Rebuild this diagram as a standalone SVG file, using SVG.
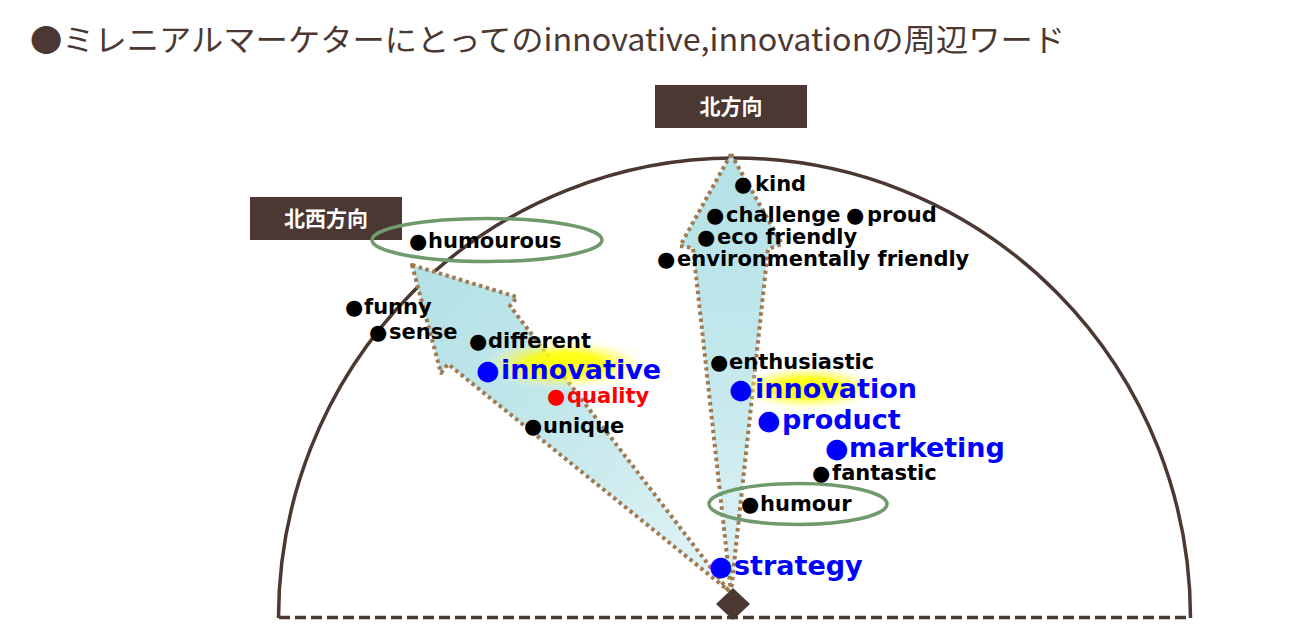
<svg xmlns="http://www.w3.org/2000/svg" width="1300" height="637" viewBox="0 0 1300 637">
<style>
.lbl{font-family:"DejaVu Sans","Noto Sans CJK JP",sans-serif;font-weight:bold;font-size:21px;fill:#000}
.big{font-family:"DejaVu Sans","Noto Sans CJK JP",sans-serif;font-weight:bold;font-size:27px;fill:#0000ff}
.red{fill:#ff0000}
.dot{font-family:"DejaVu Sans",sans-serif;font-weight:bold}
.box{fill:#4b3832}
.boxt{font-family:"Noto Sans CJK JP",sans-serif;font-weight:bold;font-size:21px;fill:#fff}
.arrow{stroke:#a07a50;stroke-width:4;stroke-dasharray:3.5 3.5;stroke-linejoin:round}
.ring{fill:none;stroke:#6f9a6d;stroke-width:3.5}
</style>
<defs>
<linearGradient id="gN" x1="0" y1="0" x2="0" y2="1">
<stop offset="0" stop-color="#b2e1e6"/>
<stop offset="0.55" stop-color="#c6e9ed"/>
<stop offset="1" stop-color="#e2f3f5"/>
</linearGradient>
<linearGradient id="gNW" x1="0" y1="0" x2="1" y2="1">
<stop offset="0" stop-color="#b3e1e6"/>
<stop offset="0.45" stop-color="#c2e7eb"/>
<stop offset="1" stop-color="#e4f4f6"/>
</linearGradient>
<radialGradient id="glow">
<stop offset="0" stop-color="#ffff00" stop-opacity="1"/>
<stop offset="0.45" stop-color="#ffff00" stop-opacity="0.85"/>
<stop offset="0.75" stop-color="#ffff66" stop-opacity="0.4"/>
<stop offset="1" stop-color="#ffffff" stop-opacity="0"/>
</radialGradient>
</defs>

<g id="title">
<text x="30" y="51" font-family="Noto Sans CJK JP, sans-serif" font-size="31" fill="#4b3832" textLength="1035" lengthAdjust="spacingAndGlyphs">●ミレニアルマーケターにとってのinnovative,innovationの周辺ワード</text>
</g>

<g id="compass">
<path d="M 278.5 618 A 456 460 0 0 1 1190.5 618" fill="none" stroke="#4b3832" stroke-width="3.5"/>
<line x1="279" y1="617.5" x2="1190" y2="617.5" stroke="#4b3832" stroke-width="3.5" stroke-dasharray="11 5"/>
</g>

<g id="connectors">
<polygon id="arrow-nw" class="arrow" fill="url(#gNW)" points="412,265 517,297 510,306 728,590 448,364 441,373"/>
<polygon id="arrow-n" class="arrow" fill="url(#gN)" points="731,154 782,244 768,249 731,592 693,248 680,246"/>
</g>

<g id="glows">
<ellipse cx="565" cy="364" rx="85" ry="26" fill="url(#glow)"/>
<ellipse cx="808" cy="388" rx="74" ry="23" fill="url(#glow)"/>
</g>

<g id="center-mark">
<polygon points="733,588 750,604 733,620 716,604" fill="#4b3832"/>
</g>

<g id="label-north">
<rect class="box" x="655" y="85" width="152" height="43"/>
<text class="boxt" x="731" y="114" text-anchor="middle">北方向</text>
</g>
<g id="label-northwest">
<rect class="box" x="250" y="197" width="152" height="43"/>
<text class="boxt" x="326" y="226" text-anchor="middle">北西方向</text>
</g>

<g id="ring-humourous"><ellipse class="ring" cx="487" cy="240" rx="115" ry="21.5"/></g>
<g id="ring-humour"><ellipse class="ring" cx="798" cy="504" rx="89" ry="20.5"/></g>

<g id="w-kind"><text class="lbl" y="191"><tspan class="dot" x="734">●</tspan><tspan x="755">kind</tspan></text></g>
<g id="w-challenge"><text class="lbl" y="222"><tspan class="dot" x="706">●</tspan><tspan x="726">challenge</tspan></text></g>
<g id="w-proud"><text class="lbl" y="222"><tspan class="dot" x="846">●</tspan><tspan x="867">proud</tspan></text></g>
<g id="w-eco"><text class="lbl" y="244"><tspan class="dot" x="697">●</tspan><tspan x="717">eco friendly</tspan></text></g>
<g id="w-env"><text class="lbl" y="266"><tspan class="dot" x="657">●</tspan><tspan x="677">environmentally friendly</tspan></text></g>
<g id="w-humourous"><text class="lbl" y="248"><tspan class="dot" x="409">●</tspan><tspan x="428">humourous</tspan></text></g>
<g id="w-funny"><text class="lbl" y="314"><tspan class="dot" x="345">●</tspan><tspan x="364">funny</tspan></text></g>
<g id="w-sense"><text class="lbl" y="339"><tspan class="dot" x="369">●</tspan><tspan x="389">sense</tspan></text></g>
<g id="w-different"><text class="lbl" y="348"><tspan class="dot" x="469">●</tspan><tspan x="488">different</tspan></text></g>
<g id="w-innovative"><text class="big" y="379"><tspan class="dot" x="476">●</tspan><tspan x="501">innovative</tspan></text></g>
<g id="w-quality"><text class="lbl red" y="403"><tspan class="dot" x="547">●</tspan><tspan x="567">quality</tspan></text></g>
<g id="w-unique"><text class="lbl" y="433"><tspan class="dot" x="524">●</tspan><tspan x="543">unique</tspan></text></g>
<g id="w-enthusiastic"><text class="lbl" y="369"><tspan class="dot" x="710">●</tspan><tspan x="729">enthusiastic</tspan></text></g>
<g id="w-innovation"><text class="big" y="398"><tspan class="dot" x="729">●</tspan><tspan x="755">innovation</tspan></text></g>
<g id="w-product"><text class="big" y="429"><tspan class="dot" x="757">●</tspan><tspan x="782">product</tspan></text></g>
<g id="w-marketing"><text class="big" y="457"><tspan class="dot" x="825">●</tspan><tspan x="849">marketing</tspan></text></g>
<g id="w-fantastic"><text class="lbl" y="480"><tspan class="dot" x="812">●</tspan><tspan x="832">fantastic</tspan></text></g>
<g id="w-humour"><text class="lbl" y="511"><tspan class="dot" x="741">●</tspan><tspan x="760">humour</tspan></text></g>
<g id="w-strategy"><text class="big" y="575"><tspan class="dot" x="709">●</tspan><tspan x="734">strategy</tspan></text></g>
</svg>
